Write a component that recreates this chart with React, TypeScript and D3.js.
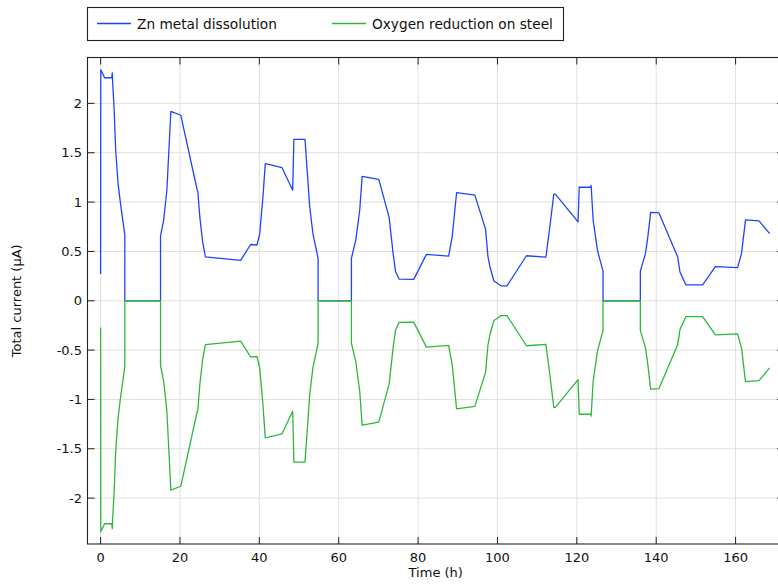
import React from 'react';
import * as d3 from 'd3';

const hours = [
  0, 0.05, 1.0, 2.8, 2.95, 3.05, 3.4, 3.8, 4.4, 5.0, 6.1, 6.1, 15.1, 15.1, 15.9, 16.7, 17.7, 20.2,
  24.3, 24.5, 25.0, 25.7, 26.4, 35.3, 37.8, 39.4, 40.1, 40.9, 41.5, 45.7, 48.4, 48.7, 51.5, 52.7,
  53.5, 54.8, 54.8, 63.2, 63.2, 64.3, 65.3, 65.9, 70.1, 72.7, 73.7, 74.3, 75.2, 78.9, 82.1, 87.7,
  88.6, 89.7, 94.3, 97.0, 97.6, 98.1, 99.1, 101.0, 102.4, 107.3, 112.2, 113.2, 114.2, 114.6, 120.3,
  120.6, 123.5, 123.6, 124.1, 125.2, 126.6, 126.6, 136.0, 136.0, 137.3, 137.9, 138.6, 140.7, 145.4,
  146.0, 147.5, 151.7, 154.9, 160.5, 161.5, 162.5, 165.9, 168.6,
];

const znDissolution = [
  0.27, 2.34, 2.26, 2.26, 2.31, 2.2, 1.95, 1.53, 1.19, 0.99, 0.67, 0, 0, 0.655, 0.82, 1.12, 1.92, 1.88,
  1.13, 1.11, 0.85, 0.6, 0.445, 0.41, 0.57, 0.565, 0.68, 1.05, 1.39, 1.35, 1.12, 1.635, 1.635, 0.95,
  0.68, 0.43, 0, 0, 0.43, 0.615, 0.92, 1.26, 1.23, 0.845, 0.48, 0.3, 0.22, 0.217, 0.47, 0.453,
  0.65, 1.095, 1.07, 0.726, 0.45, 0.345, 0.2, 0.15, 0.15, 0.456, 0.443, 0.75, 1.08, 1.08, 0.8,
  1.15, 1.15, 1.17, 0.82, 0.51, 0.3, 0, 0, 0.3, 0.48, 0.65, 0.895, 0.89, 0.445,
  0.29, 0.16, 0.16, 0.345, 0.335, 0.48, 0.82, 0.81, 0.68,
];

const oxygenReduction = [
  -0.27, -2.34, -2.26, -2.26, -2.31, -2.2, -1.95, -1.53, -1.19, -0.99, -0.67, 0, 0, -0.655, -0.82, -1.12, -1.92, -1.88,
  -1.13, -1.11, -0.85, -0.6, -0.445, -0.41, -0.57, -0.565, -0.68, -1.05, -1.39, -1.35, -1.12, -1.635, -1.635, -0.95,
  -0.68, -0.43, 0, 0, -0.43, -0.615, -0.92, -1.26, -1.23, -0.845, -0.48, -0.3, -0.22, -0.217, -0.47, -0.453,
  -0.65, -1.095, -1.07, -0.726, -0.45, -0.345, -0.2, -0.15, -0.15, -0.456, -0.443, -0.75, -1.08, -1.08, -0.8,
  -1.15, -1.15, -1.17, -0.82, -0.51, -0.3, 0, 0, -0.3, -0.48, -0.65, -0.895, -0.89, -0.445,
  -0.29, -0.16, -0.16, -0.345, -0.335, -0.48, -0.82, -0.81, -0.68,
];

const xTicks = [0, 20, 40, 60, 80, 100, 120, 140, 160];
const yTicks = [-2, -1.5, -1, -0.5, 0, 0.5, 1, 1.5, 2];

const seriesNames = ['Zn metal dissolution', 'Oxygen reduction on steel'];
const seriesColors = ['#1f45fc', '#2cb83c'];

const W = 778;
const H = 585;
const left = 87.5;
const right = 784;
const top = 57.5;
const bottom = 544;
const font = '"DejaVu Sans", sans-serif';

export default function App() {
  const x = d3.scaleLinear().domain([-3.3, 172.2]).range([left, right]);
  const y = d3.scaleLinear().domain([-2.465, 2.465]).range([bottom, top]);

  const line = d3
    .line<number>()
    .x((_, i) => x(hours[i]))
    .y((d) => y(d));

  const series = [znDissolution, oxygenReduction];

  return (
    <svg width={W} height={H} style={{ position: 'absolute', left: 0, top: 0 }} fontFamily={font}>
      <rect x={0} y={0} width={W} height={H} fill="#fff" />
      <defs>
        <clipPath id="plot">
          <rect x={left} y={top} width={right - left} height={bottom - top} />
        </clipPath>
      </defs>

      {/* grid */}
      {xTicks.map((t) => (
        <line key={'gx' + t} x1={x(t)} x2={x(t)} y1={top} y2={bottom} stroke="#e0e0e0" />
      ))}
      {yTicks.map((t) => (
        <line key={'gy' + t} x1={left} x2={right} y1={y(t)} y2={y(t)} stroke="#e0e0e0" />
      ))}

      {/* curves */}
      <g clipPath="url(#plot)" fill="none" strokeWidth={1.3} strokeLinejoin="round">
        {series.map((s, i) => (
          <path key={i} d={line(s) ?? ''} stroke={seriesColors[i]} />
        ))}
      </g>

      {/* frame and ticks */}
      <rect x={left} y={top} width={right - left} height={bottom - top} fill="none" stroke="#222" strokeWidth={1.1} />
      {xTicks.map((t) => (
        <g key={'tx' + t}>
          <line x1={x(t)} x2={x(t)} y1={bottom} y2={bottom - 7} stroke="#222" />
          <line x1={x(t)} x2={x(t)} y1={top} y2={top + 7} stroke="#222" />
          <text x={x(t)} y={562} textAnchor="middle" fontSize={13} fill="#111">
            {t}
          </text>
        </g>
      ))}
      {yTicks.map((t) => (
        <g key={'ty' + t}>
          <line x1={left} x2={left + 7} y1={y(t)} y2={y(t)} stroke="#222" />
          <line x1={right} x2={right - 7} y1={y(t)} y2={y(t)} stroke="#222" />
          <text x={82} y={y(t)} dy="0.35em" textAnchor="end" fontSize={13} fill="#111">
            {String(t)}
          </text>
        </g>
      ))}

      {/* axis titles */}
      <text x={(left + right) / 2} y={577} textAnchor="middle" fontSize={13} fill="#111">
        Time (h)
      </text>
      <text
        transform={`translate(21,${(top + bottom) / 2}) rotate(-90)`}
        textAnchor="middle"
        fontSize={13}
        fill="#111"
      >
        Total current (µA)
      </text>

      {/* legend */}
      <rect x={87.5} y={7.5} width={476} height={33} fill="#fff" stroke="#222" strokeWidth={1.1} />
      {seriesNames.map((name, i) => {
        const lx = i === 0 ? 97 : 332;
        return (
          <g key={name}>
            <line x1={lx} x2={lx + 34} y1={23.5} y2={23.5} stroke={seriesColors[i]} strokeWidth={1.3} />
            <text x={lx + 40} y={29} fontSize={13.7} fill="#111">
              {name}
            </text>
          </g>
        );
      })}
    </svg>
  );
}
